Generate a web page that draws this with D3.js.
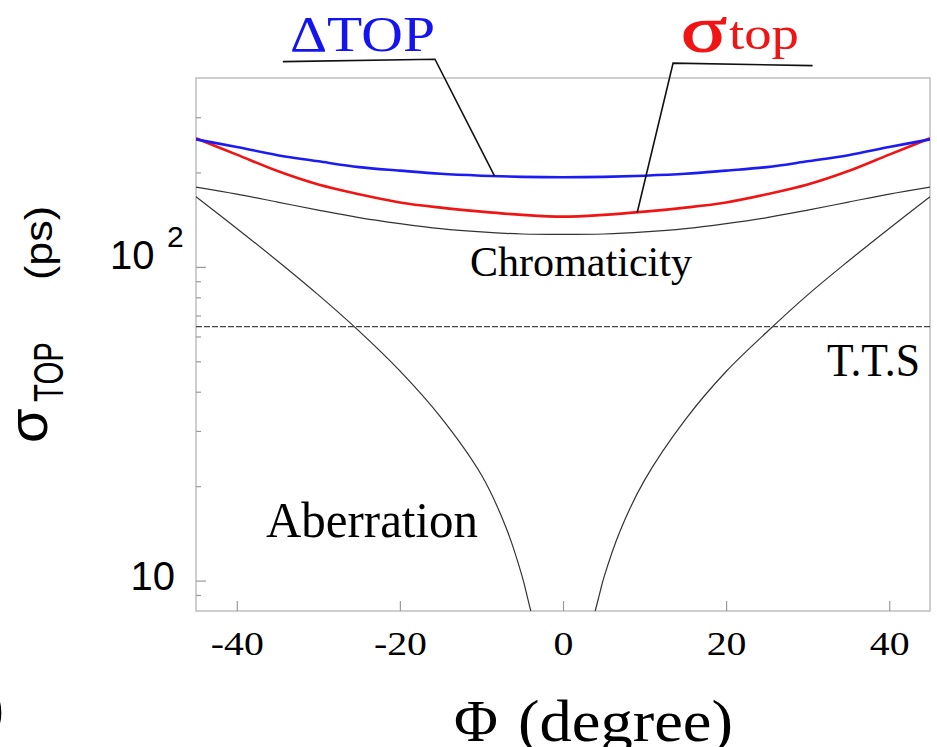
<!DOCTYPE html>
<html>
<head>
<meta charset="utf-8">
<script src="https://cdn.jsdelivr.net/npm/d3@7"></script>
<style>
  html, body { margin: 0; padding: 0; background: #fff; }
  svg { display: block; }
</style>
</head>
<body>
<svg id="chart" width="937" height="747"></svg>
<script>
// Timing resolution contributions versus emission angle Φ (degrees), in ps.
const phi = [-45, -40, -35, -30, -25, -20, -15, -10, -5, 0, 5, 10, 15, 20, 25, 30, 35, 40, 45];
const deltaTop = [255, 241, 227, 217, 208, 202.7, 198, 195.3, 193.6, 193, 193.6, 195.3, 198, 202.7, 208, 217, 227, 241, 255];
const sigmaTop = [257, 228, 202, 183, 170.4, 160.5, 154.5, 150, 146.5, 144.6, 146.5, 150, 154.5, 160.5, 170.4, 183, 202, 228, 257];
const chromaticity = [179.6, 170.6, 160.9, 151.7, 143.6, 137.4, 132.4, 129.2, 127.3, 126.9, 127.3, 129.2, 132.4, 137.4, 143.6, 151.7, 160.9, 170.6, 179.6];
const ttsLevel = 64.5;

// Aberration term: two branches that vanish towards Φ = 0.
const aberrPhiLeft = [-45, -40, -35, -30, -25, -20, -15, -10, -7, -5, -4.5, -3.95];
const aberrLeft = [167.3, 132.6, 104.4, 81.4, 62.4, 46.6, 33.2, 21.7, 14.8, 10.3, 9.15, 8];
const aberrPhiRight = [3.95, 4.5, 5, 7, 10, 15, 20, 25, 30, 35, 40, 45];
const aberrRight = [8, 9.1, 10.2, 14.4, 20.9, 32.6, 46.4, 62, 81.4, 104.4, 132.6, 167.3];

// Axis ticks
const xTicks = [-40, -20, 0, 20, 40];
const yMajorTicks = [10, 100];
const yMinorTicks = [9, 20, 30, 40, 50, 60, 70, 80, 90, 200, 300];

// Leader lines for the two curve labels, in data units (Φ, ps)
const deltaLeader = [[-34.35, 451], [-15.7, 459], [-8.4, 195]];
const sigmaLeader = [[9.1, 149], [13.5, 446], [30.6, 438]];

const SERIF = "'Liberation Serif', 'Times New Roman', Times, serif";
const SANS = "'Liberation Sans', Arial, Helvetica, sans-serif";

const svg = d3.select('#chart');
const plot = { left: 196, right: 930, top: 78, bottom: 611 };

const x = d3.scaleLinear().domain([-45, 45]).range([plot.left, plot.right]);
const y = d3.scaleLog().domain([8, 400]).range([plot.bottom, plot.top]);

svg.append('defs').append('clipPath').attr('id', 'plotClip')
  .append('rect')
  .attr('x', plot.left).attr('y', plot.top)
  .attr('width', plot.right - plot.left).attr('height', plot.bottom - plot.top);

// Frame
svg.append('rect')
  .attr('x', plot.left).attr('y', plot.top)
  .attr('width', plot.right - plot.left).attr('height', plot.bottom - plot.top)
  .attr('fill', 'none').attr('stroke', '#c2c2c2').attr('stroke-width', 1.6);

// X axis with inward ticks
const xAxis = svg.append('g')
  .attr('transform', `translate(0,${plot.bottom})`)
  .call(d3.axisBottom(x).tickValues(xTicks).tickSize(-10).tickPadding(20).tickFormat(d => String(d)));
xAxis.select('.domain').remove();
xAxis.selectAll('.tick line').attr('stroke', '#9a9a9a').attr('stroke-width', 1.2);
xAxis.selectAll('.tick text')
  .attr('font-family', SERIF).attr('font-size', 34).attr('fill', '#000')
  .attr('transform', 'scale(1.17,1)');

// Y axis: minor and major inward ticks
const yMinor = svg.append('g')
  .attr('transform', `translate(${plot.left},0)`)
  .call(d3.axisLeft(y).tickValues(yMinorTicks).tickSize(-5).tickFormat(''));
yMinor.select('.domain').remove();
yMinor.selectAll('.tick line').attr('stroke', '#9a9a9a').attr('stroke-width', 1.2);

const yMajor = svg.append('g')
  .attr('transform', `translate(${plot.left},0)`)
  .call(d3.axisLeft(y).tickValues(yMajorTicks).tickSize(-10).tickFormat(''));
yMajor.select('.domain').remove();
yMajor.selectAll('.tick line').attr('stroke', '#9a9a9a').attr('stroke-width', 1.2);

// Y tick labels: "10" and "10 2"
svg.append('text')
  .attr('x', 175).attr('y', y(10) + 9.5)
  .attr('text-anchor', 'end')
  .attr('font-family', SANS).attr('font-size', 40).attr('fill', '#000')
  .text('10');
const lab100 = svg.append('text')
  .attr('x', 110).attr('y', y(100) + 2.5)
  .attr('font-family', SANS).attr('font-size', 40).attr('fill', '#000');
lab100.append('tspan').text('10');
lab100.append('tspan').attr('x', 167).attr('y', y(100) - 20).attr('font-size', 30).text('2');

// Curves
const line = d3.line().x(d => x(d[0])).y(d => y(d[1])).curve(d3.curveCatmullRom.alpha(0.5));
const plotArea = svg.append('g').attr('clip-path', 'url(#plotClip)');

plotArea.append('path')
  .datum(d3.zip(phi, chromaticity))
  .attr('d', line).attr('fill', 'none')
  .attr('stroke', '#333').attr('stroke-width', 1.2);

plotArea.append('path')
  .datum(d3.zip(aberrPhiLeft, aberrLeft))
  .attr('d', line).attr('fill', 'none')
  .attr('stroke', '#333').attr('stroke-width', 1.2);

plotArea.append('path')
  .datum(d3.zip(aberrPhiRight, aberrRight))
  .attr('d', line).attr('fill', 'none')
  .attr('stroke', '#333').attr('stroke-width', 1.2);

plotArea.append('line')
  .attr('x1', x(-45)).attr('x2', x(45))
  .attr('y1', y(ttsLevel)).attr('y2', y(ttsLevel))
  .attr('stroke', '#444').attr('stroke-width', 1.2)
  .attr('stroke-dasharray', '6,2');

plotArea.append('path')
  .datum(d3.zip(phi, sigmaTop))
  .attr('d', line).attr('fill', 'none')
  .attr('stroke', '#f01414').attr('stroke-width', 2.6);

plotArea.append('path')
  .datum(d3.zip(phi, deltaTop))
  .attr('d', line).attr('fill', 'none')
  .attr('stroke', '#1c1cf2').attr('stroke-width', 2.6);

// Leader lines
const straight = d3.line().x(d => x(d[0])).y(d => y(d[1]));
svg.append('path').datum(deltaLeader).attr('d', straight)
  .attr('fill', 'none').attr('stroke', '#111').attr('stroke-width', 1.6);
svg.append('path').datum(sigmaLeader).attr('d', straight)
  .attr('fill', 'none').attr('stroke', '#111').attr('stroke-width', 1.6);

// Curve labels
svg.append('text')
  .attr('x', 290).attr('y', 51)
  .attr('font-family', SERIF).attr('font-size', 50).attr('fill', '#1414f0')
  .attr('textLength', 145).attr('lengthAdjust', 'spacingAndGlyphs')
  .text('ΔTOP');

svg.append('text')
  .attr('x', 681).attr('y', 51)
  .attr('font-family', SERIF).attr('font-size', 66).attr('fill', '#f01414')
  .attr('stroke', '#f01414').attr('stroke-width', 1.2)
  .attr('textLength', 46).attr('lengthAdjust', 'spacingAndGlyphs')
  .text('σ');
svg.append('text')
  .attr('x', 729).attr('y', 49)
  .attr('font-family', SERIF).attr('font-size', 46).attr('fill', '#f01414')
  .attr('textLength', 70).attr('lengthAdjust', 'spacingAndGlyphs')
  .text('top');

svg.append('text')
  .attr('x', 470).attr('y', 276)
  .attr('font-family', SERIF).attr('font-size', 42).attr('fill', '#000')
  .attr('textLength', 222).attr('lengthAdjust', 'spacingAndGlyphs')
  .text('Chromaticity');

svg.append('text')
  .attr('x', 827).attr('y', 376)
  .attr('font-family', SERIF).attr('font-size', 46).attr('fill', '#000')
  .attr('textLength', 93).attr('lengthAdjust', 'spacingAndGlyphs')
  .text('T.T.S');

svg.append('text')
  .attr('x', 266).attr('y', 537)
  .attr('font-family', SERIF).attr('font-size', 51).attr('fill', '#000')
  .attr('textLength', 212).attr('lengthAdjust', 'spacingAndGlyphs')
  .text('Aberration');

// X axis title
svg.append('text')
  .attr('x', 454).attr('y', 741)
  .attr('font-family', SERIF).attr('font-size', 60).attr('fill', '#000')
  .text('Φ');
svg.append('text')
  .attr('x', 518).attr('y', 741)
  .attr('font-family', SERIF).attr('font-size', 60).attr('fill', '#000')
  .attr('textLength', 215).attr('lengthAdjust', 'spacingAndGlyphs')
  .text('(degree)');

// Y axis title, rotated
const yTitle = svg.append('g').attr('transform', 'rotate(-90)');
yTitle.append('text')
  .attr('x', -443).attr('y', 47)
  .attr('font-family', SANS).attr('font-size', 56).attr('fill', '#000')
  .text('σ');
yTitle.append('text')
  .attr('x', -402).attr('y', 63)
  .attr('font-family', SANS).attr('font-size', 42).attr('fill', '#000')
  .attr('textLength', 60).attr('lengthAdjust', 'spacingAndGlyphs')
  .text('TOP');
yTitle.append('text')
  .attr('x', -280).attr('y', 52)
  .attr('font-family', SANS).attr('font-size', 38).attr('fill', '#000')
  .attr('textLength', 74).attr('lengthAdjust', 'spacingAndGlyphs')
  .text('(ps)');

// Panel marker at the lower-left edge
svg.append('text')
  .attr('x', 4).attr('y', 727)
  .attr('text-anchor', 'end')
  .attr('font-family', SERIF).attr('font-size', 60).attr('fill', '#000')
  .text(')');
</script>
</body>
</html>
